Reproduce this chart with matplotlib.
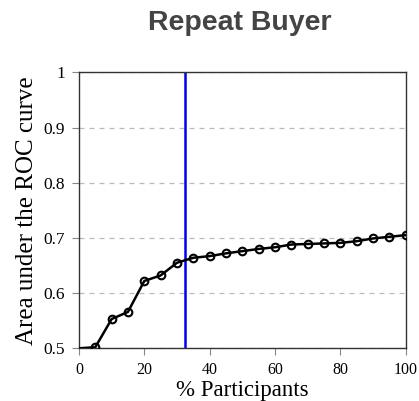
import numpy as np
import matplotlib.pyplot as plt

# AUC by share of participants
pct = [0, 5, 10, 15, 20, 25, 30, 35, 40, 45, 50, 55, 60, 65, 70, 75, 80, 85, 90, 95, 100]
auc = [0.500, 0.502, 0.553, 0.566, 0.622, 0.632, 0.655, 0.664, 0.667, 0.672, 0.676,
       0.680, 0.683, 0.688, 0.689, 0.690, 0.691, 0.694, 0.699, 0.702, 0.705]
cutoff = 32.6

fig = plt.figure(figsize=(4.19, 4.01), dpi=100)
ax = fig.add_axes([0.1885, 0.1314, 0.7795, 0.6883])

ax.plot(pct, auc, color="black", lw=1.8, marker="o", markersize=5.5,
        markerfacecolor="none", markeredgecolor="black", markeredgewidth=1.5,
        markevery=list(range(1, len(pct))), zorder=3)
ax.axvline(cutoff, color="#0000ee", lw=1.8, zorder=2)

ax.set_xlim(0, 100)
ax.set_ylim(0.5, 1.0)
ax.set_xticks([0, 20, 40, 60, 80, 100])
ax.set_yticks([0.5, 0.6, 0.7, 0.8, 0.9, 1.0])
ax.set_yticklabels(["0.5", "0.6", "0.7", "0.8", "0.9", "1"])
ax.grid(axis="y", color="#bbbbbb", linestyle=(0, (4, 4)), lw=0.9)
ax.set_axisbelow(True)

serif = "Liberation Serif"
for lab in ax.get_xticklabels():
    lab.set_fontfamily(serif)
    lab.set_fontsize(11.5)
for lab in ax.get_yticklabels():
    lab.set_fontfamily(serif)
    lab.set_fontsize(12.5)
ax.tick_params(direction="out", length=5, width=0.8, color="#888888", pad=5)
for s in ax.spines.values():
    s.set_color("#333333")
    s.set_linewidth(1.0)

ax.set_xlabel("% Participants", fontfamily=serif, fontsize=16.5, labelpad=1)
ax.set_ylabel("Area under the ROC curve", fontfamily=serif, fontsize=18, labelpad=4)

fig.text(0.573, 0.942, "Repeat Buyer", ha="center", va="center",
         fontfamily="Liberation Sans", fontweight="bold", fontsize=20.5, color="#444444")

plt.savefig("out.png")
